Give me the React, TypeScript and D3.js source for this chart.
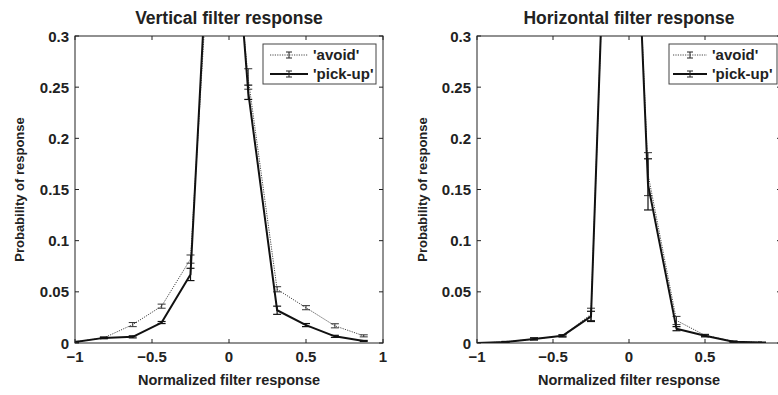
import React from "react";
import * as d3 from "d3";

const xVals = [-1, -0.8125, -0.625, -0.4375, -0.25, -0.0625, 0.125, 0.3125, 0.5, 0.6875, 0.875];

// Vertical filter response
const vAvoid = [0.001, 0.005, 0.018, 0.036, 0.082, 0.55, 0.258, 0.0525, 0.0345, 0.0168, 0.007];
const vAvoidErr = [0.0005, 0.001, 0.002, 0.002, 0.004, 0.01, 0.01, 0.0025, 0.002, 0.002, 0.001];
const vPick = [0.001, 0.005, 0.006, 0.02, 0.067, 0.61, 0.245, 0.032, 0.0175, 0.0065, 0.002];
const vPickErr = [0.0005, 0.0005, 0.001, 0.001, 0.006, 0.01, 0.007, 0.004, 0.0015, 0.001, 0.0005];

// Horizontal filter response
const hAvoid = [0.0, 0.001, 0.004, 0.007, 0.028, 0.82, 0.165, 0.022, 0.0075, 0.0015, 0.0005];
const hAvoidErr = [0.0003, 0.0005, 0.001, 0.001, 0.006, 0.01, 0.021, 0.004, 0.001, 0.0005, 0.0003];
const hPick = [0.0, 0.001, 0.004, 0.007, 0.026, 0.83, 0.155, 0.014, 0.007, 0.0012, 0.0004];
const hPickErr = [0.0003, 0.0005, 0.001, 0.001, 0.005, 0.01, 0.025, 0.002, 0.001, 0.0005, 0.0003];

const xTicks = [-1, -0.5, 0, 0.5, 1];
const yTicks = [0, 0.05, 0.1, 0.15, 0.2, 0.25, 0.3];
const seriesNames = ["'avoid'", "'pick-up'"];
const titles = ["Vertical filter response", "Horizontal filter response"];
const xLabel = "Normalized filter response";
const yLabel = "Probability of response";

const FONT = "'Liberation Sans', Arial, Helvetica, sans-serif";
const W = 778;

const fmtX = (v: number) => (v === 0 ? "0" : (v < 0 ? "\u2212" : "") + String(Math.abs(v)));
const fmtY = (v: number) => (v === 0 ? "0" : String(+v.toFixed(2)));

type PanelProps = {
  id: string;
  x0: number;
  x1: number;
  title: string;
  avoid: number[];
  avoidErr: number[];
  pick: number[];
  pickErr: number[];
  legendX: number;
  legendW: number;
  sampleA: number;
  sampleB: number;
  textOff: number;
  yLabelOff: number;
};

function ErrorBars({ xs, ys, es, xScale, yScale, color, width }: any) {
  return (
    <g stroke={color} strokeWidth={width} fill="none">
      {xs.map((xv: number, i: number) => {
        const cx = xScale(xv);
        const yt = yScale(ys[i] + es[i]);
        const yb = yScale(ys[i] - es[i]);
        return (
          <g key={i}>
            <line x1={cx} x2={cx} y1={yt} y2={yb} />
            <line x1={cx - 4} x2={cx + 4} y1={yt} y2={yt} />
            <line x1={cx - 4} x2={cx + 4} y1={yb} y2={yb} />
          </g>
        );
      })}
    </g>
  );
}

function Panel(p: PanelProps) {
  const top = 36;
  const bottom = 343;
  const x = d3.scaleLinear().domain([-1, 1]).range([p.x0, p.x1]);
  const y = d3.scaleLinear().domain([0, 0.3]).range([bottom, top]);
  const line = d3
    .line<number>()
    .x((_, i) => x(xVals[i]))
    .y((d) => y(d));
  const cx = (p.x0 + p.x1) / 2;
  const tl = 4;
  return (
    <g>
      <defs>
        <clipPath id={p.id}>
          <rect x={p.x0} y={top} width={p.x1 - p.x0} height={bottom - top} />
        </clipPath>
      </defs>
      <g clipPath={`url(#${p.id})`}>
        <path d={line(p.avoid) || ""} fill="none" stroke="#333" strokeWidth={0.9} strokeDasharray="1.2,1.2" />
        <ErrorBars xs={xVals} ys={p.avoid} es={p.avoidErr} xScale={x} yScale={y} color="#333" width={1} />
        <path d={line(p.pick) || ""} fill="none" stroke="#111" strokeWidth={2} strokeLinejoin="round" />
        <ErrorBars xs={xVals} ys={p.pick} es={p.pickErr} xScale={x} yScale={y} color="#111" width={1.2} />
      </g>
      <rect x={p.x0} y={top} width={p.x1 - p.x0} height={bottom - top} fill="none" stroke="#222" strokeWidth={1} />
      <g stroke="#222" strokeWidth={1}>
        {xTicks.map((t) => (
          <g key={"x" + t}>
            <line x1={x(t)} x2={x(t)} y1={bottom} y2={bottom - tl} />
            <line x1={x(t)} x2={x(t)} y1={top} y2={top + tl} />
          </g>
        ))}
        {yTicks.map((t) => (
          <g key={"y" + t}>
            <line x1={p.x0} x2={p.x0 + tl} y1={y(t)} y2={y(t)} />
            <line x1={p.x1} x2={p.x1 - tl} y1={y(t)} y2={y(t)} />
          </g>
        ))}
      </g>
      <g fontFamily={FONT} fontWeight="bold" fontSize={15} fill="#222">
        {xTicks
          .filter((t) => x(t) < W - 6)
          .map((t) => (
            <text key={"xl" + t} x={x(t)} y={bottom + 19} textAnchor="middle">
              {fmtX(t)}
            </text>
          ))}
        {yTicks.map((t) => (
          <text key={"yl" + t} x={p.x0 - 6} y={y(t) + 5.5} textAnchor="end">
            {fmtY(t)}
          </text>
        ))}
        <text x={cx} y={23.5} textAnchor="middle" fontSize={17.5}>
          {p.title}
        </text>
        <text x={cx} y={385} textAnchor="middle" fontSize={14.5}>
          {xLabel}
        </text>
        <text
          transform={`translate(${p.x0 - p.yLabelOff},${(top + bottom) / 2}) rotate(-90)`}
          textAnchor="middle"
          fontSize={13}
        >
          {yLabel}
        </text>
      </g>
      <g>
        <rect x={p.legendX} y={44} width={p.legendW} height={40} fill="#fff" stroke="#444" strokeWidth={1} />
        {[0, 1].map((k) => {
          const ly = 55 + k * 19;
          const lx0 = p.legendX + p.sampleA;
          const lx1 = p.legendX + p.sampleB;
          const mx = (lx0 + lx1) / 2;
          return (
            <g key={k}>
              <line
                x1={lx0}
                x2={lx1}
                y1={ly}
                y2={ly}
                stroke={k === 0 ? "#333" : "#111"}
                strokeWidth={k === 0 ? 0.9 : 2}
                strokeDasharray={k === 0 ? "1.2,1.2" : undefined}
              />
              <g stroke="#222" strokeWidth={1}>
                <line x1={mx} x2={mx} y1={ly - 3} y2={ly + 3} />
                <line x1={mx - 3} x2={mx + 3} y1={ly - 3} y2={ly - 3} />
                <line x1={mx - 3} x2={mx + 3} y1={ly + 3} y2={ly + 3} />
              </g>
              <text
                x={p.legendX + p.textOff}
                y={ly + 5}
                fontFamily={FONT}
                fontWeight="bold"
                fontSize={15}
                fill="#222"
              >
                {seriesNames[k]}
              </text>
            </g>
          );
        })}
      </g>
    </g>
  );
}

export default function App() {
  return (
    <svg width={W} height={395} style={{ position: "absolute", left: 0, top: 0, background: "#fff" }}>
      <rect x={0} y={0} width={W} height={395} fill="#fff" />
      <Panel
        id="clipV"
        x0={75}
        x1={383}
        title={titles[0]}
        avoid={vAvoid}
        avoidErr={vAvoidErr}
        pick={vPick}
        pickErr={vPickErr}
        legendX={263}
        legendW={113}
        sampleA={7}
        sampleB={45}
        textOff={50}
        yLabelOff={51}
      />
      <Panel
        id="clipH"
        x0={477}
        x1={781}
        title={titles[1]}
        avoid={hAvoid}
        avoidErr={hAvoidErr}
        pick={hPick}
        pickErr={hPickErr}
        legendX={669}
        legendW={108}
        sampleA={4}
        sampleB={38}
        textOff={43}
        yLabelOff={50}
      />
    </svg>
  );
}
